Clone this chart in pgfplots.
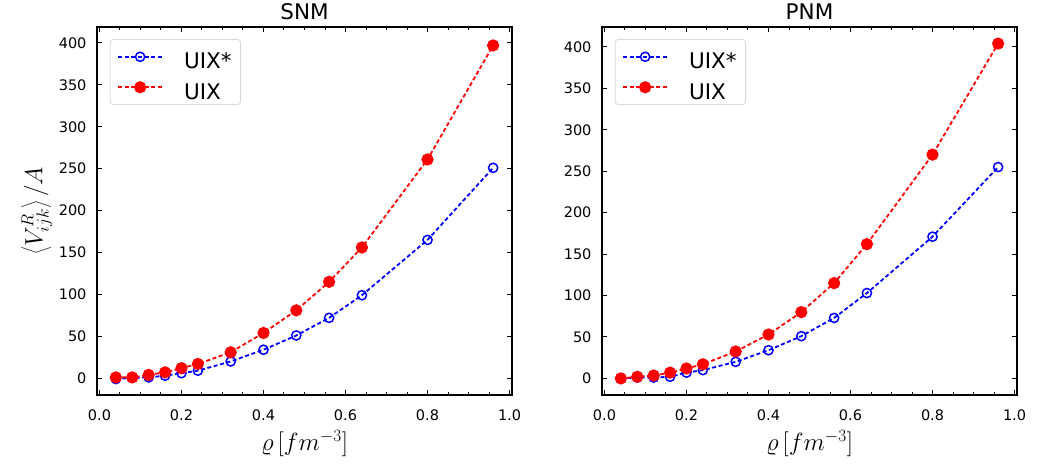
\documentclass[border=0pt]{standalone}
\usepackage{pgfplots}
\pgfplotsset{compat=1.18}
\usepackage{fontspec}
\setmainfont{DejaVu Sans}
\newcommand{\lstrut}{\rule[-12pt]{0pt}{37pt}}
\begin{document}
\begin{tikzpicture}
\useasboundingbox (0,0) rectangle (1044pt,470pt);
\pgfplotsset{
  every axis/.style={
    scale only axis, width=415pt, height=368pt,
    xmin=-0.006, xmax=1.006,
    xtick={0,0.2,0.4,0.6,0.8,1.0},
    xticklabels={0.0,0.2,0.4,0.6,0.8,1.0},
    minor x tick num=3,
    ytick={0,50,100,150,200,250,300,350,400},
    tick align=inside,
    major tick length=5pt, minor tick length=3pt,
    every tick/.style={black, line width=1pt},
    axis line style={line width=1.8pt},
    /pgf/number format/assume math mode=true,
    tick label style={font=\fontsize{14.5}{16}\selectfont},
    xticklabel style={yshift=-11pt},
    yticklabel style={xshift=-7pt},
    title style={font=\fontsize{21.5}{24}\selectfont, yshift=-2pt},
    label style={font=\fontsize{24}{28}\selectfont},
    xlabel={$\varrho\,[fm^{-3}]$},
    xlabel style={yshift=-3pt},
    legend cell align=left,
    legend style={at={(0.031,0.967)}, anchor=north west, draw=black!15, line width=0.8pt, rounded corners=3pt,
      font=\fontsize{21.5}{24}\selectfont, inner xsep=7pt, inner ysep=2pt},
    legend image code/.code={\draw[mark repeat=2, mark phase=2] plot coordinates {(0pt,0pt) (22pt,0pt) (44pt,0pt)};},
  },
  uixs/.style={blue, line width=1.8pt, dash pattern=on 4pt off 2.6pt, mark=o, mark size=4.6pt, mark options={solid, line width=1.5pt}},
  uix/.style={red, line width=1.8pt, dash pattern=on 4pt off 2.6pt, mark=*, mark size=5.2pt, mark options={solid}},
}
\begin{axis}[at={(97pt,75pt)}, anchor=south west, ymin=-20, ymax=419, title={SNM},
  ylabel={$\left\langle V^{R}_{ijk}\right\rangle / A$}]
\addplot[uixs] coordinates {(0.04,-1) (0.08,0.5) (0.12,1) (0.16,3) (0.20,6) (0.24,9) (0.32,20) (0.40,34) (0.48,51) (0.56,72) (0.64,99) (0.80,165) (0.96,251)};
\addplot[uix] coordinates {(0.04,1) (0.08,1) (0.12,4) (0.16,7) (0.20,12) (0.24,17) (0.32,31) (0.40,54) (0.48,81) (0.56,115) (0.64,156) (0.80,261) (0.96,397)};
\legend{\hspace{19pt}UIX*\lstrut,\hspace{19pt}UIX\lstrut}
\end{axis}
\begin{axis}[at={(602pt,75pt)}, anchor=south west, ymin=-20, ymax=424, title={PNM}]
\addplot[uixs] coordinates {(0.04,0) (0.08,1) (0.12,1) (0.16,2) (0.20,7) (0.24,10) (0.32,20) (0.40,34) (0.48,51) (0.56,73) (0.64,103) (0.80,171) (0.96,255)};
\addplot[uix] coordinates {(0.04,0) (0.08,2) (0.12,3.5) (0.16,7) (0.20,12) (0.24,17) (0.32,32.5) (0.40,53) (0.48,80) (0.56,115) (0.64,162) (0.80,270) (0.96,404)};
\legend{\hspace{19pt}UIX*\lstrut,\hspace{19pt}UIX\lstrut}
\end{axis}
\end{tikzpicture}
\end{document}
